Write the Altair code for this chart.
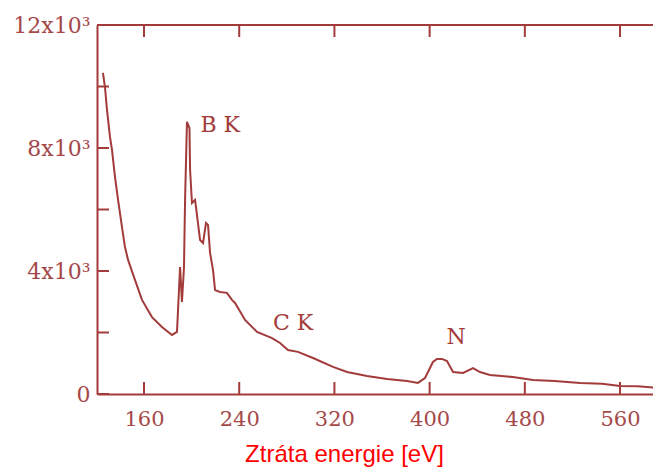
import altair as alt
import pandas as pd

# Spectrum
energy = [125.5, 127.2, 128.9, 131.4, 133.1, 135.6, 138.2, 141.5, 144.0, 146.6,
          152.4, 158.3, 166.7, 175.1, 183.5, 187.7, 188.6, 190.3, 191.9, 193.6,
          194.5, 196.1, 198.2, 198.7, 200.3, 202.9, 203.7, 207.1, 209.6, 212.1,
          213.8, 215.5, 218.0, 219.7, 223.9, 229.7, 233.9, 236.5, 244.9, 255.0,
          267.6, 274.3, 281.0, 289.4, 302.0, 318.8, 330.6, 347.4, 364.2, 381.0,
          390.2, 396.1, 402.8, 406.2, 410.4, 414.6, 419.7, 428.1, 436.5, 442.3,
          450.7, 470.0, 486.9, 505.0, 526.4, 545.0, 560.0, 575.0, 594.4]
counts = [10440, 9980, 9240, 8360, 7940, 7060, 6310, 5430, 4780, 4360,
          3710, 3060, 2500, 2180, 1920, 2020, 2730, 4130, 2990, 4130,
          6310, 8850, 8650, 7290, 6210, 6310, 6080, 5010, 4910, 5560,
          5500, 4590, 4030, 3380, 3320, 3290, 3060, 2960, 2410, 2020,
          1820, 1660, 1430, 1370, 1170, 880, 715, 585, 490, 425,
          360, 520, 1040, 1140, 1140, 1070, 715, 685, 845, 715,
          620, 550, 455, 420, 360, 330, 260, 250, 195]

x_ticks = [160, 240, 320, 400, 480, 560]
y_ticks = [0, 2000, 4000, 6000, 8000, 10000, 12000]
y_labels = [0, 4000, 8000, 12000]

peak_names = ["B K", "C K", "N"]
peak_x = [224.0, 285.2, 422.2]
peak_y = [8750, 2310, 1850]

C = "#a33b3b"
LC = "#a5484a"
W, H = 556, 369

xs = alt.Scale(domain=[120.5, 587.7], nice=False, zero=False)
ys = alt.Scale(domain=[0, 12000], nice=False, zero=True)

df = pd.DataFrame({"E": energy, "I": counts})

x_axis = alt.Axis(
    values=x_ticks, ticks=False, domainColor=C, domainWidth=2,
    labelFont="DejaVu Serif", labelFontSize=21, labelColor=LC,
    labelPadding=14, grid=False,
    title="Ztráta energie [eV]", titleColor="#ff0000",
    titleFont="Liberation Sans", titleFontSize=24, titleFontWeight="normal",
    titleX=247, titleY=67, titleAlign="center", titleBaseline="alphabetic")
y_axis = alt.Axis(
    values=y_labels, ticks=False, domainColor=C, domainWidth=2,
    labelFont="DejaVu Serif", labelFontSize=22, labelColor=LC,
    labelPadding=7, grid=False, title=None,
    labelExpr="datum.value == 0 ? '0' : (datum.value / 1000) + 'x10³'")

line = alt.Chart(df).mark_line(color=C, strokeWidth=2, clip=True).encode(
    x=alt.X("E:Q", scale=xs, axis=x_axis),
    y=alt.Y("I:Q", scale=ys, axis=y_axis),
)

xt = pd.DataFrame({"t": x_ticks})
yt = pd.DataFrame({"v": y_ticks})

bottom_ticks = alt.Chart(xt).mark_rule(color=C, strokeWidth=2).encode(
    x=alt.X("t:Q", scale=xs), y=alt.value(H), y2=alt.value(H - 12))
top_ticks = alt.Chart(xt).mark_rule(color=C, strokeWidth=2).encode(
    x=alt.X("t:Q", scale=xs), y=alt.value(0), y2=alt.value(12))
left_ticks = alt.Chart(yt).mark_rule(color=C, strokeWidth=2).encode(
    y=alt.Y("v:Q", scale=ys), x=alt.value(0), x2=alt.value(12))
top_line = alt.Chart(pd.DataFrame({"a": [0]})).mark_rule(color=C, strokeWidth=2).encode(
    x=alt.value(0), x2=alt.value(W), y=alt.value(0))

ann = alt.Chart(pd.DataFrame({"n": peak_names, "x": peak_x, "y": peak_y})).mark_text(
    font="DejaVu Serif", fontSize=22, color=C, align="center", baseline="middle"
).encode(x=alt.X("x:Q", scale=xs), y=alt.Y("y:Q", scale=ys), text="n:N")

chart = alt.layer(line, bottom_ticks, top_ticks, left_ticks, top_line, ann).properties(
    width=W, height=H,
    padding={"left": 89, "top": 17, "right": 0, "bottom": 76},
    autosize=alt.AutoSizeParams(type="none"),
).configure_view(stroke=None)

chart.save("out.html", embed_options={"renderer": "svg", "actions": False})
